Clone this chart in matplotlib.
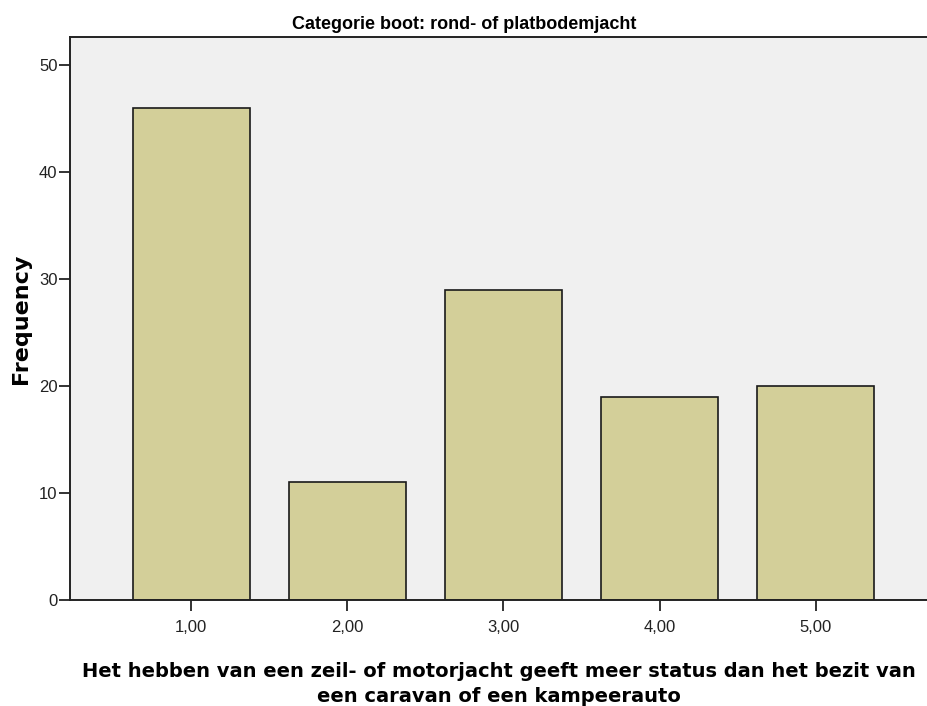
import matplotlib
matplotlib.use("Agg")
import matplotlib.pyplot as plt

categories = ["1,00", "2,00", "3,00", "4,00", "5,00"]
frequencies = [46, 11, 29, 19, 20]
y_ticks = [0, 10, 20, 30, 40, 50]

title = "Categorie boot: rond- of platbodemjacht"
x_label = ("Het hebben van een zeil- of motorjacht geeft meer status dan het bezit van\n"
           "een caravan of een kampeerauto")

plt.rcParams["font.family"] = ["Liberation Sans", "DejaVu Sans"]

fig = plt.figure(figsize=(9.28, 7.06), dpi=100)
ax = fig.add_axes([70 / 928, 1 - 600 / 706, 1 - 70 / 928, (600 - 37) / 706])
ax.set_facecolor("#f0f0f0")

positions = list(range(1, len(categories) + 1))
ax.bar(positions, frequencies, width=0.75, color="#d3cf99",
       edgecolor="#1a1a1a", linewidth=1.2, zorder=2)

ax.set_xlim(0.223, 5.72)
ax.set_ylim(0, 52.6)
ax.set_xticks(positions)
ax.set_xticklabels(categories)
ax.set_yticks(y_ticks)

for side in ("left", "bottom", "top"):
    ax.spines[side].set_linewidth(1.4)
    ax.spines[side].set_color("#222222")
ax.spines["right"].set_visible(False)

ax.tick_params(axis="both", direction="out", length=8, width=1.4,
               color="#333333", labelsize=12, labelcolor="#222222")
ax.tick_params(axis="y", pad=1)
ax.tick_params(axis="x", pad=6.5)

ax.set_ylabel("Frequency", family="DejaVu Sans", fontweight="bold",
              fontsize=16, labelpad=6)
ax.set_xlabel(x_label, family="DejaVu Sans", fontweight="bold",
              fontsize=14, labelpad=19, linespacing=1.45)

fig.text(464 / 928, 1 - 29 / 706, title,
         family=["Liberation Sans", "DejaVu Sans"],
         fontweight="bold", fontsize=13, ha="center", va="baseline")

fig.savefig("out.png", dpi=100)
